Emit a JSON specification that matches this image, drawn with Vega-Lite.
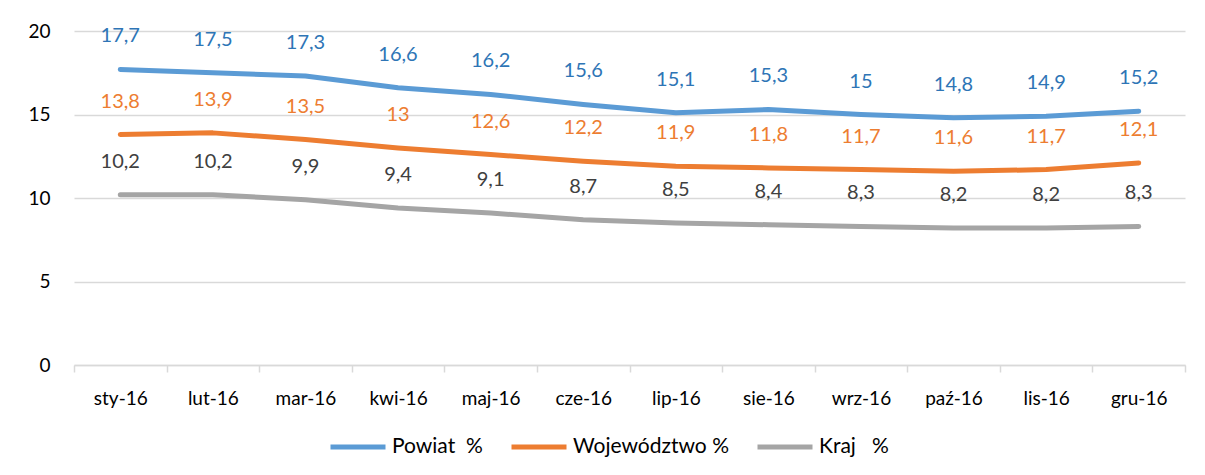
{
  "$schema": "https://vega.github.io/schema/vega-lite/v6.json",
  "width": 1111,
  "height": 334,
  "autosize": {"type": "none"},
  "padding": {"left": 74, "top": 31, "right": 20, "bottom": 110},
  "background": "white",
  "config": {
    "locale": {"number": {"decimal": ",", "thousands": " ", "grouping": [3], "currency": ["", " zł"]}},
    "view": {"stroke": null},
    "font": "Lato"
  },
  "data": {
    "values": [
      {"month": "sty-16", "series": "Powiat\u00a0 %", "value": 17.7},
      {"month": "lut-16", "series": "Powiat\u00a0 %", "value": 17.5},
      {"month": "mar-16", "series": "Powiat\u00a0 %", "value": 17.3},
      {"month": "kwi-16", "series": "Powiat\u00a0 %", "value": 16.6},
      {"month": "maj-16", "series": "Powiat\u00a0 %", "value": 16.2},
      {"month": "cze-16", "series": "Powiat\u00a0 %", "value": 15.6},
      {"month": "lip-16", "series": "Powiat\u00a0 %", "value": 15.1},
      {"month": "sie-16", "series": "Powiat\u00a0 %", "value": 15.3},
      {"month": "wrz-16", "series": "Powiat\u00a0 %", "value": 15.0},
      {"month": "paź-16", "series": "Powiat\u00a0 %", "value": 14.8},
      {"month": "lis-16", "series": "Powiat\u00a0 %", "value": 14.9},
      {"month": "gru-16", "series": "Powiat\u00a0 %", "value": 15.2},
      {"month": "sty-16", "series": "Województwo %", "value": 13.8},
      {"month": "lut-16", "series": "Województwo %", "value": 13.9},
      {"month": "mar-16", "series": "Województwo %", "value": 13.5},
      {"month": "kwi-16", "series": "Województwo %", "value": 13.0},
      {"month": "maj-16", "series": "Województwo %", "value": 12.6},
      {"month": "cze-16", "series": "Województwo %", "value": 12.2},
      {"month": "lip-16", "series": "Województwo %", "value": 11.9},
      {"month": "sie-16", "series": "Województwo %", "value": 11.8},
      {"month": "wrz-16", "series": "Województwo %", "value": 11.7},
      {"month": "paź-16", "series": "Województwo %", "value": 11.6},
      {"month": "lis-16", "series": "Województwo %", "value": 11.7},
      {"month": "gru-16", "series": "Województwo %", "value": 12.1},
      {"month": "sty-16", "series": "Kraj\u00a0\u00a0 %", "value": 10.2},
      {"month": "lut-16", "series": "Kraj\u00a0\u00a0 %", "value": 10.2},
      {"month": "mar-16", "series": "Kraj\u00a0\u00a0 %", "value": 9.9},
      {"month": "kwi-16", "series": "Kraj\u00a0\u00a0 %", "value": 9.4},
      {"month": "maj-16", "series": "Kraj\u00a0\u00a0 %", "value": 9.1},
      {"month": "cze-16", "series": "Kraj\u00a0\u00a0 %", "value": 8.7},
      {"month": "lip-16", "series": "Kraj\u00a0\u00a0 %", "value": 8.5},
      {"month": "sie-16", "series": "Kraj\u00a0\u00a0 %", "value": 8.4},
      {"month": "wrz-16", "series": "Kraj\u00a0\u00a0 %", "value": 8.3},
      {"month": "paź-16", "series": "Kraj\u00a0\u00a0 %", "value": 8.2},
      {"month": "lis-16", "series": "Kraj\u00a0\u00a0 %", "value": 8.2},
      {"month": "gru-16", "series": "Kraj\u00a0\u00a0 %", "value": 8.3}
    ]
  },
  "encoding": {
    "x": {
      "field": "month",
      "type": "nominal",
      "sort": null,
      "scale": {"type": "band", "paddingInner": 0, "paddingOuter": 0},
      "axis": {
        "title": null,
        "labelAngle": 0,
        "tickBand": "extent",
        "domainColor": "#D9D9D9",
        "domainWidth": 1.5,
        "tickColor": "#D9D9D9",
        "tickWidth": 1.5,
        "tickSize": 7,
        "labelPadding": 17,
        "labelFontSize": 19,
        "labelColor": "#000000",
        "labelFont": "Lato",
        "grid": false
      }
    },
    "y": {
      "field": "value",
      "type": "quantitative",
      "scale": {"domain": [0, 20], "nice": false, "zero": true},
      "axis": {
        "title": null,
        "values": [0, 5, 10, 15, 20],
        "domain": false,
        "ticks": false,
        "labelPadding": 24,
        "labelFontSize": 19,
        "labelColor": "#000000",
        "labelFont": "Lato",
        "gridColor": "#D9D9D9",
        "gridWidth": 1.5
      }
    }
  },
  "layer": [
    {
      "mark": {"type": "line", "strokeWidth": 5, "strokeCap": "round", "strokeJoin": "round"},
      "encoding": {
        "color": {
          "field": "series",
          "type": "nominal",
          "scale": {
            "domain": ["Powiat\u00a0 %", "Województwo %", "Kraj\u00a0\u00a0 %"],
            "range": ["#5B9BD5", "#ED7D31", "#A5A5A5"]
          },
          "legend": {
            "title": null,
            "orient": "none",
            "direction": "horizontal",
            "legendX": 254,
            "legendY": 386,
            "symbolType": "stroke",
            "symbolSize": 3025,
            "symbolStrokeWidth": 5,
            "labelFontSize": 21,
            "labelFont": "Lato",
            "labelColor": "#000000",
            "labelOffset": 4,
            "columnPadding": 18,
            "labelLimit": 300
          }
        }
      }
    },
    {
      "mark": {"type": "text", "dy": -33, "fontSize": 20, "font": "Lato", "baseline": "middle"},
      "encoding": {
        "text": {"field": "value", "type": "quantitative", "format": ".1~f"},
        "fill": {
          "field": "series",
          "type": "nominal",
          "scale": {
            "domain": ["Powiat\u00a0 %", "Województwo %", "Kraj\u00a0\u00a0 %"],
            "range": ["#2E75B6", "#ED7D31", "#404040"]
          },
          "legend": null
        }
      }
    }
  ]
}
